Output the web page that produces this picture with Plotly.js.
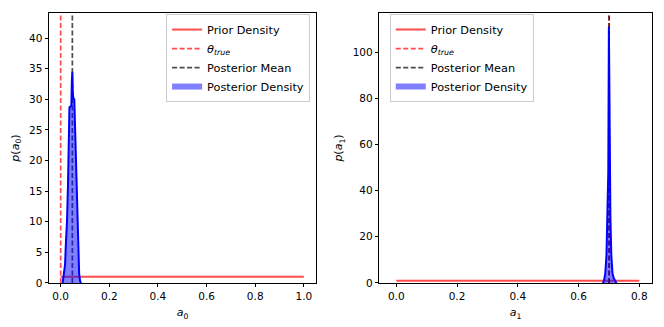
<!DOCTYPE html>
<html>
<head>
<meta charset="utf-8">
<script src="https://cdn.plot.ly/plotly-3.0.1.min.js"></script>
<style>
  html, body { margin: 0; padding: 0; background: #fff; }
  #chart { width: 664px; height: 327px; }
</style>
</head>
<body>
<div id="chart"></div>
<script>
// a0 : prior uniforme sur [0, 1]
const a0Prior_x = [0, 1];
const a0Prior_y = [1, 1];
const a0True = 0.0;
const a0Mean = 0.048;
const a0Post_x = [0.008, 0.010, 0.014, 0.018, 0.022, 0.026, 0.030, 0.034, 0.036, 0.040, 0.044, 0.046, 0.048, 0.050, 0.052, 0.056, 0.060, 0.064, 0.068, 0.072, 0.076, 0.080, 0.084];
const a0Post_y = [0, 0.5, 1.5, 3, 7, 10, 16, 24, 28.7, 28.8, 29, 33, 34.5, 31, 30.2, 30, 24, 17, 10, 4, 1.5, 0.3, 0];

// a1 : prior uniforme sur [0, 0.8]
const a1Prior_x = [0, 0.8];
const a1Prior_y = [1, 1];
const a1True = 0.70;
const a1Mean = 0.701;
const a1Post_x = [0.680, 0.684, 0.688, 0.692, 0.695, 0.698, 0.700, 0.702, 0.705, 0.708, 0.712, 0.716, 0.720, 0.725];
const a1Post_y = [0, 1, 4, 12, 30, 48, 111, 48, 28, 12, 4, 2, 1, 0];

const yTop0 = 44.1;
const yTop1 = 116.9;

const rouge = "rgba(255,0,0,0.7)";
const noir = "rgba(0,0,0,0.7)";
const pointilles = "5px,2.5px";

function panneau(suffixe, leg, px, py, vrai, moy, postX, postY, yTop) {
  const xa = "x" + suffixe, ya = "y" + suffixe;
  return [
    { x: px, y: py, xaxis: xa, yaxis: ya, legend: leg, mode: "lines", name: "Prior Density",
      line: { color: rouge, width: 2 } },
    { x: [vrai, vrai], y: [0, yTop], xaxis: xa, yaxis: ya, legend: leg, mode: "lines",
      name: "<i>θ</i><sub><i>true</i></sub>", line: { color: rouge, width: 1.7, dash: pointilles } },
    { x: [moy, moy], y: [0, yTop], xaxis: xa, yaxis: ya, legend: leg, mode: "lines",
      name: "Posterior Mean", line: { color: noir, width: 1.7, dash: pointilles } },
    { x: postX, y: postY, xaxis: xa, yaxis: ya, legend: leg, mode: "none", fill: "tozeroy",
      fillcolor: "rgba(0,0,255,0.5)", name: "Posterior Density" },
    { x: postX, y: postY, xaxis: xa, yaxis: ya, mode: "lines", showlegend: false,
      line: { color: "blue", width: 2 } }
  ];
}

const traces = [].concat(
  panneau("", "legend", a0Prior_x, a0Prior_y, a0True, a0Mean, a0Post_x, a0Post_y, yTop0),
  panneau("2", "legend2", a1Prior_x, a1Prior_y, a1True, a1Mean, a1Post_x, a1Post_y, yTop1)
);

const axeBase = {
  showline: true, mirror: true, linecolor: "black", linewidth: 1,
  ticks: "outside", ticklen: 3.5, tickcolor: "black", tickwidth: 1,
  showgrid: false, zeroline: false,
  tickfont: { size: 10.5, color: "black" }
};

const legBase = {
  bgcolor: "rgba(255,255,255,0.8)", bordercolor: "#cccccc", borderwidth: 1,
  font: { size: 11.3, color: "black" }, yanchor: "top", y: 0.957, tracegroupgap: 0
};

const layout = {
  width: 664, height: 327,
  margin: { l: 0, r: 0, t: 0, b: 0 },
  paper_bgcolor: "white", plot_bgcolor: "white",
  font: { family: "DejaVu Sans", size: 10.5, color: "black" },
  xaxis: Object.assign({}, axeBase, {
    domain: [0.0738, 0.4759], range: [-0.048, 1.05], tickvals: [0, 0.2, 0.4, 0.6, 0.8, 1.0],
    tickformat: ".1f", anchor: "y",
    title: { text: "<i>a</i><sub>0</sub>", standoff: 7, font: { size: 11 } }
  }),
  yaxis: Object.assign({}, axeBase, {
    domain: [0.1346, 0.9602], range: [0, yTop0], tickvals: [0, 5, 10, 15, 20, 25, 30, 35, 40],
    anchor: "x",
    title: { text: "<i>p</i>(<i>a</i><sub>0</sub>)", standoff: 7, font: { size: 11 } }
  }),
  xaxis2: Object.assign({}, axeBase, {
    domain: [0.5712, 0.9815], range: [-0.056, 0.841], tickvals: [0, 0.2, 0.4, 0.6, 0.8],
    tickformat: ".1f", anchor: "y2",
    title: { text: "<i>a</i><sub>1</sub>", standoff: 7, font: { size: 11 } }
  }),
  yaxis2: Object.assign({}, axeBase, {
    domain: [0.1346, 0.9602], range: [0, yTop1], tickvals: [0, 20, 40, 60, 80, 100],
    anchor: "x2",
    title: { text: "<i>p</i>(<i>a</i><sub>1</sub>)", standoff: 7, font: { size: 11 } }
  }),
  legend: Object.assign({}, legBase, { x: 0.467, xanchor: "right" }),
  legend2: Object.assign({}, legBase, { x: 0.587, xanchor: "left" })
};

Plotly.newPlot("chart", traces, layout, { staticPlot: true });
</script>
</body>
</html>
